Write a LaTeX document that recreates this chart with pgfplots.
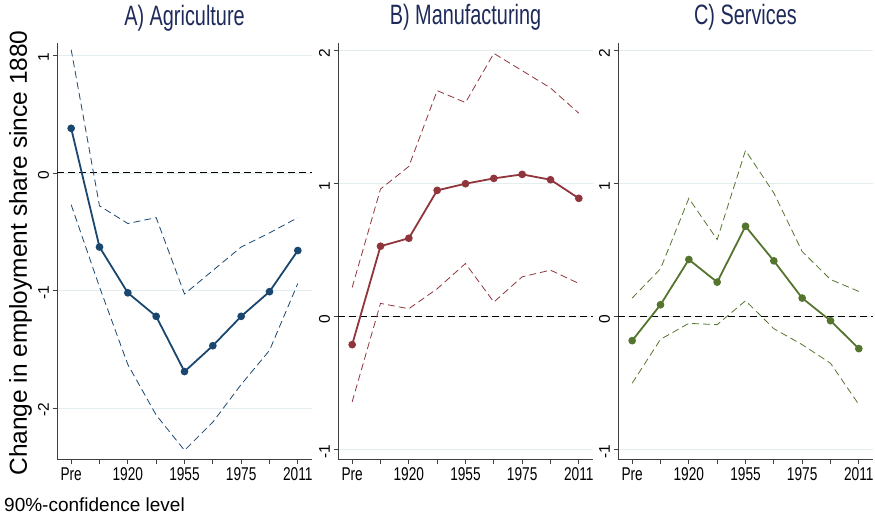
\documentclass[border=0pt]{standalone}
\usepackage{fontspec}
\setmainfont{Liberation Sans}
\newfontfamily\narrowfont{Liberation Sans}[FakeStretch=0.74]
\newfontfamily\titlefont{Liberation Sans}[FakeStretch=0.71]
\usepackage{pgfplots}
\pgfplotsset{compat=1.18}

\definecolor{snavy}{HTML}{1A476F}
\definecolor{smaroon}{HTML}{90353B}
\definecolor{sgreen}{HTML}{55752F}
\definecolor{stitle}{HTML}{1E2A5A}
\definecolor{sgrid}{HTML}{E3EEF1}

\pgfplotsset{
  panel/.style={
    scale only axis,
    width=255pt, height=416pt,
    anchor=south west,
    xmin=-0.5, xmax=8.5,
    axis x line*=bottom, axis y line*=left,
    axis line style={-, black!75, line width=0.9pt},
    xtick={0,...,8},
    xticklabels={Pre,,1920,,1955,,1975,,2011},
    xticklabel style={font=\narrowfont\fontsize{18.5}{18.5}\selectfont, yshift=-1pt},
    yticklabel style={font=\fontsize{15.5}{15.5}\selectfont, rotate=90, anchor=south, xshift=-2pt},
    tick style={black!75, line width=0.8pt},
    tick align=outside, major tick length=4.5pt,
    ymajorgrids, grid style={sgrid, line width=0.9pt},
    clip=false,
    title style={at={(0.5,1)}, anchor=base, yshift=12pt,
      font=\titlefont\fontsize{28}{28}\selectfont, text=stitle},
  },
  est/.style={line width=1.8pt, mark=*, mark size=2.9pt},
  ci/.style={line width=0.8pt, dash pattern=on 7pt off 4pt},
  zero/.style={black, line width=1pt, dash pattern=on 7pt off 4pt},
}

\begin{document}
\begin{tikzpicture}
\useasboundingbox (0,0) rectangle (875pt,-514pt);

% A) Agriculture
\begin{axis}[panel, at={(57pt,-459pt)},
  ymin=-2.434, ymax=1.106,
  ytick={-2,-1,0,1}, yticklabels={-2,-1,0,1},
  title={A) Agriculture}]
\addplot[zero] coordinates {(-0.5,0) (8.5,0)};
\addplot[snavy, ci] coordinates {(0,1.05) (1,-0.28) (2,-0.43) (3,-0.38) (4,-1.03) (5,-0.83) (6,-0.63) (7,-0.51) (8,-0.38)};
\addplot[snavy, ci] coordinates {(0,-0.27) (1,-0.97) (2,-1.63) (3,-2.06) (4,-2.36) (5,-2.12) (6,-1.80) (7,-1.51) (8,-0.94)};
\addplot[snavy, est] coordinates {(0,0.38) (1,-0.63) (2,-1.02) (3,-1.22) (4,-1.69) (5,-1.47) (6,-1.22) (7,-1.01) (8,-0.66)};
\end{axis}

% B) Manufacturing
\begin{axis}[panel, at={(338pt,-459pt)},
  ymin=-1.07, ymax=2.058,
  ytick={-1,0,1,2}, yticklabels={-1,0,1,2},
  title={B) Manufacturing}]
\addplot[zero] coordinates {(-0.5,0) (8.5,0)};
\addplot[smaroon, ci] coordinates {(0,0.22) (1,0.96) (2,1.13) (3,1.70) (4,1.61) (5,1.98) (6,1.85) (7,1.72) (8,1.53)};
\addplot[smaroon, ci] coordinates {(0,-0.64) (1,0.10) (2,0.06) (3,0.21) (4,0.40) (5,0.11) (6,0.30) (7,0.35) (8,0.25)};
\addplot[smaroon, est] coordinates {(0,-0.21) (1,0.53) (2,0.59) (3,0.95) (4,1.00) (5,1.04) (6,1.07) (7,1.03) (8,0.89)};
\end{axis}

% C) Services
\begin{axis}[panel, at={(618pt,-459pt)},
  ymin=-1.07, ymax=2.058,
  ytick={-1,0,1,2}, yticklabels={-1,0,1,2},
  title={C) Services}]
\addplot[zero] coordinates {(-0.5,0) (8.5,0)};
\addplot[sgreen, ci] coordinates {(0,0.14) (1,0.36) (2,0.89) (3,0.58) (4,1.25) (5,0.93) (6,0.49) (7,0.28) (8,0.19)};
\addplot[sgreen, ci] coordinates {(0,-0.50) (1,-0.17) (2,-0.05) (3,-0.06) (4,0.12) (5,-0.09) (6,-0.21) (7,-0.35) (8,-0.66)};
\addplot[sgreen, est] coordinates {(0,-0.18) (1,0.09) (2,0.43) (3,0.26) (4,0.68) (5,0.42) (6,0.14) (7,-0.03) (8,-0.24)};
\end{axis}

\node[rotate=90, anchor=base, font=\fontsize{24.5}{24.5}\selectfont] at (27pt,-253pt) {Change in employment share since 1880};
\node[anchor=base west, font=\fontsize{19}{19}\selectfont, inner sep=0pt] at (4pt,-511pt) {90\%-confidence level};
\end{tikzpicture}
\end{document}
